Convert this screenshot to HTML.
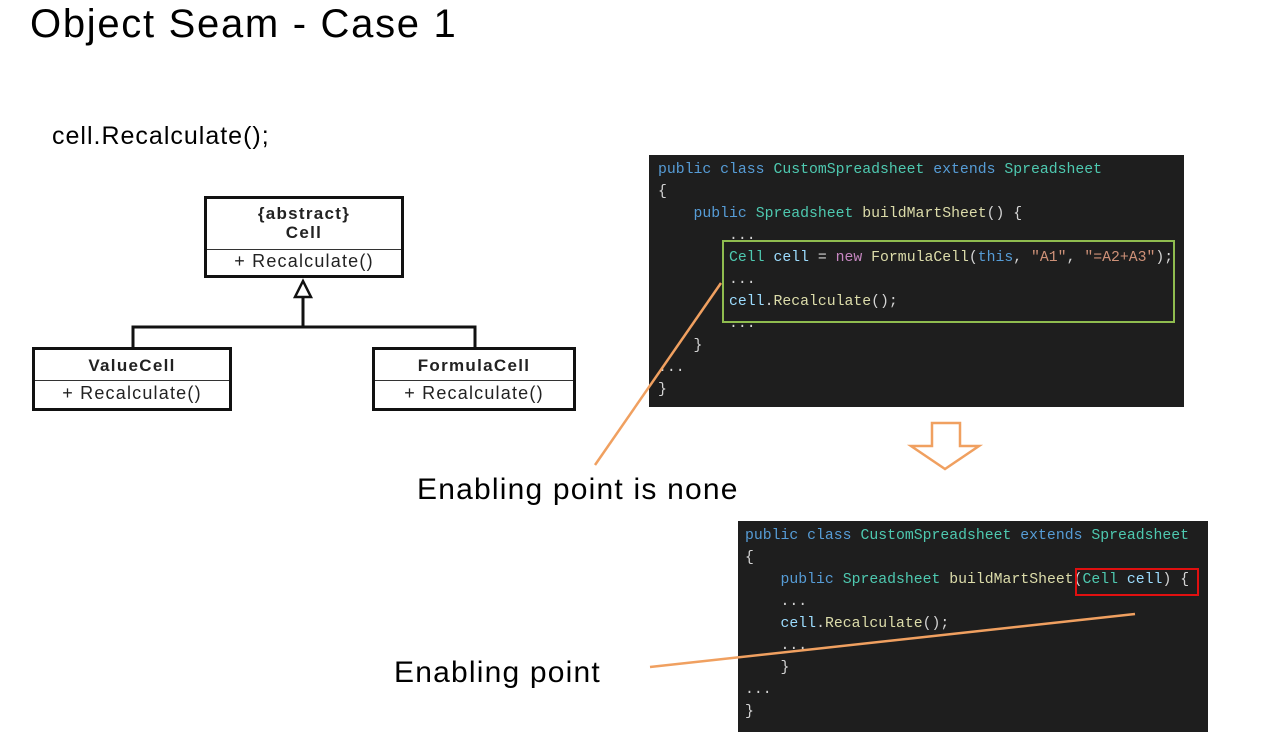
<!DOCTYPE html>
<html><head><meta charset="utf-8"><style>
body{margin:0;width:1279px;height:752px;background:#fff;position:relative;overflow:hidden;font-family:"Liberation Sans","Noto Sans CJK KR",sans-serif}
.t{position:absolute;white-space:nowrap;color:#000}
.code{position:absolute;background:#1e1e1e}
.code pre{margin:0;position:absolute;font-family:"Liberation Mono",monospace;font-size:14.8px;line-height:22px;color:#d4d4d4}
.k{color:#569cd6}.ty{color:#4ec9b0}.f{color:#dcdcaa}.v{color:#9cdcfe}.s{color:#ce9178}.p{color:#c586c0}
.box{position:absolute;border:3px solid #111;background:#fff;font-family:"Liberation Sans",sans-serif;color:#222;text-align:center;white-space:nowrap}
.h{font-weight:bold;font-size:17px;letter-spacing:1.3px}
.m{font-size:18px;letter-spacing:1.2px}
</style></head><body>
<div class="t" style="left:30px;top:2px;font-size:40px;letter-spacing:1.7px">Object Seam - Case 1</div>
<div class="t" style="left:52px;top:122px;font-size:25px;letter-spacing:1px">cell.Recalculate();</div>

<div class="box" style="left:204px;top:196px;width:194px;height:76px">
<div class="h" style="line-height:19px;margin-top:5px">{abstract}<br>Cell</div>
<div class="m" style="border-top:1px solid #333;margin-top:7px;line-height:22px">+ Recalculate()</div></div>
<div class="box" style="left:32px;top:347px;width:194px;height:58px">
<div class="h" style="line-height:22px;margin-top:5px">ValueCell</div>
<div class="m" style="border-top:1px solid #333;margin-top:3px;line-height:24px">+ Recalculate()</div></div>
<div class="box" style="left:372px;top:347px;width:198px;height:58px">
<div class="h" style="line-height:22px;margin-top:5px">FormulaCell</div>
<div class="m" style="border-top:1px solid #333;margin-top:3px;line-height:24px">+ Recalculate()</div></div>

<svg style="position:absolute;left:0;top:0" width="1279" height="752">
<polyline points="133,347 133,327 475,327 475,347" fill="none" stroke="#111" stroke-width="3"/>
<line x1="303" y1="297" x2="303" y2="327" stroke="#111" stroke-width="3"/>
<polygon points="303,281 295,297 311,297" fill="#fff" stroke="#111" stroke-width="2.5"/>
<polygon points="932,423 960,423 960,446 979,446 945,469 911,446 932,446" fill="#fff" stroke="#f0a060" stroke-width="2.5"/>
</svg>

<div class="code" style="left:649px;top:155px;width:535px;height:252px">
<pre style="left:9px;top:4px"><span class="k">public class</span> <span class="ty">CustomSpreadsheet</span> <span class="k">extends</span> <span class="ty">Spreadsheet</span>
{
    <span class="k">public</span> <span class="ty">Spreadsheet</span> <span class="f">buildMartSheet</span>() {
        ...
        <span class="ty">Cell</span> <span class="v">cell</span> = <span class="p">new</span> <span class="f">FormulaCell</span>(<span class="k">this</span>, <span class="s">"A1"</span>, <span class="s">"=A2+A3"</span>);
        ...
        <span class="v">cell</span>.<span class="f">Recalculate</span>();
        ...
    }
...
}</pre>
<div style="position:absolute;left:73px;top:85px;width:449px;height:79px;border:2px solid #8fbc4f"></div>
</div>

<div class="code" style="left:738px;top:521px;width:470px;height:211px">
<pre style="left:7px;top:4px"><span class="k">public class</span> <span class="ty">CustomSpreadsheet</span> <span class="k">extends</span> <span class="ty">Spreadsheet</span>
{
    <span class="k">public</span> <span class="ty">Spreadsheet</span> <span class="f">buildMartSheet</span>(<span class="ty">Cell</span> <span class="v">cell</span>) {
    ...
    <span class="v">cell</span>.<span class="f">Recalculate</span>();
    ...
    }
...
}</pre>
<div style="position:absolute;left:337px;top:47px;width:120px;height:24px;border:2px solid #e01010"></div>
</div>

<svg style="position:absolute;left:0;top:0" width="1279" height="752">
<line x1="595" y1="465" x2="721" y2="283" stroke="#f0a060" stroke-width="2.5"/>
<line x1="650" y1="667" x2="1135" y2="614" stroke="#f0a060" stroke-width="2.5"/>
</svg>

<div class="t" style="left:417px;top:473px;font-size:30px;letter-spacing:1.2px">Enabling point is none</div>
<div class="t" style="left:394px;top:656px;font-size:30px;letter-spacing:1.2px">Enabling point</div>
</body></html>
